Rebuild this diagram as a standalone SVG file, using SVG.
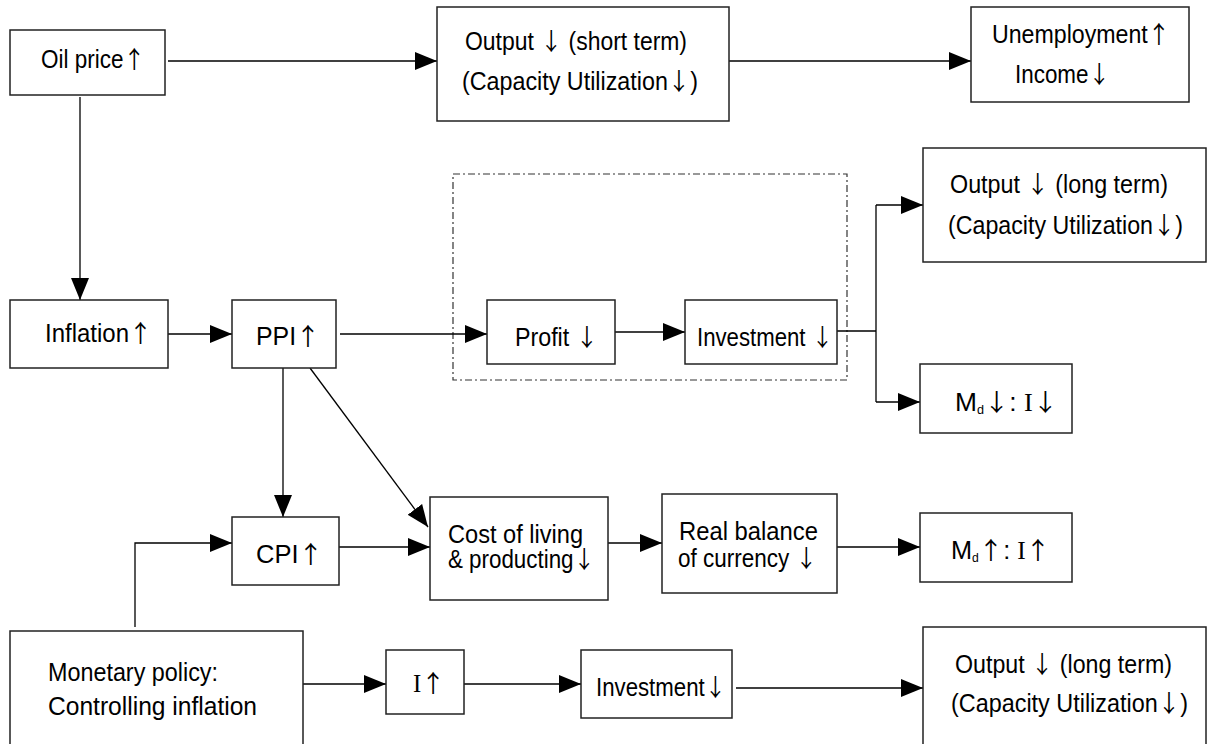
<svg xmlns="http://www.w3.org/2000/svg" width="1207" height="744" viewBox="0 0 1207 744">
<defs>
<marker id="ah" markerUnits="userSpaceOnUse" markerWidth="22" markerHeight="20" refX="22" refY="10" orient="auto">
<path d="M0,1 L22,10 L0,19 z" fill="#000"/>
</marker>
<style>
.box{fill:#fff;stroke:#222;stroke-width:1.5}
.dash{fill:none;stroke:#333;stroke-width:1.2;stroke-dasharray:7,3,2,3}
.t{font-family:"Liberation Sans",Arial,sans-serif;font-size:25px;fill:#000}
.s{font-family:"Liberation Serif","Times New Roman",serif;fill:#000}
.a{font-family:"Noto Sans CJK SC","DejaVu Sans",sans-serif;font-size:24px;fill:#000}
.c{fill:none;stroke:#000;stroke-width:1.3}
.ca{fill:none;stroke:#000;stroke-width:1.3;marker-end:url(#ah)}
</style>
</defs>
<rect width="1207" height="744" fill="#fff"/>
<g id="group-dashed"><rect class="dash" x="453" y="174" width="394" height="206"/></g>
<g id="connectors">
<path class="ca" d="M168,61 H437"/>
<path class="ca" d="M729,61 H971"/>
<path class="ca" d="M80,97 V300"/>
<path class="ca" d="M168,334 H232"/>
<path class="ca" d="M340,334 H487"/>
<path class="ca" d="M615,332 H685"/>
<path class="c" d="M837,331 H876 M876,205 V402"/>
<path class="ca" d="M876,205 H923"/>
<path class="ca" d="M876,402 H920"/>
<path class="ca" d="M283,368 V517"/>
<path class="ca" d="M310,368 L428,527"/>
<path class="ca" d="M339,547 H430"/>
<path class="ca" d="M135,627 V543 H232"/>
<path class="ca" d="M608,543 H662"/>
<path class="ca" d="M837,547 H920"/>
<path class="ca" d="M303,684 H386"/>
<path class="ca" d="M464,684 H581"/>
<path class="ca" d="M736,688 H923"/>
</g>
<g id="oil"><rect class="box" x="10" y="30" width="155" height="65"/><text class="t" x="41" y="68" textLength="104" lengthAdjust="spacingAndGlyphs">Oil price<tspan class="a">↑</tspan></text></g>
<g id="output-short"><rect class="box" x="437" y="7" width="292" height="114"/><text class="t" x="465" y="50" textLength="222" lengthAdjust="spacingAndGlyphs">Output <tspan class="a">↓</tspan> (short term)</text><text class="t" x="462" y="90" textLength="236" lengthAdjust="spacingAndGlyphs">(Capacity Utilization<tspan class="a">↓</tspan>)</text></g>
<g id="unemployment"><rect class="box" x="971" y="7" width="218" height="95"/><text class="t" x="992" y="43" textLength="178" lengthAdjust="spacingAndGlyphs">Unemployment<tspan class="a">↑</tspan></text><text class="t" x="1015" y="83" textLength="95" lengthAdjust="spacingAndGlyphs">Income<tspan class="a">↓</tspan></text></g>
<g id="inflation"><rect class="box" x="10" y="300" width="158" height="68"/><text class="t" x="45" y="342" textLength="107" lengthAdjust="spacingAndGlyphs">Inflation<tspan class="a">↑</tspan></text></g>
<g id="ppi"><rect class="box" x="232" y="300" width="104" height="68"/><text class="t" x="256" y="345" textLength="64" lengthAdjust="spacingAndGlyphs">PPI<tspan class="a">↑</tspan></text></g>
<g id="profit"><rect class="box" x="487" y="300" width="128" height="64"/><text class="t" x="515" y="346" textLength="83" lengthAdjust="spacingAndGlyphs">Profit <tspan class="a">↓</tspan></text></g>
<g id="investment1"><rect class="box" x="685" y="300" width="152" height="64"/><text class="t" x="697" y="346" textLength="136" lengthAdjust="spacingAndGlyphs">Investment <tspan class="a">↓</tspan></text></g>
<g id="output-long1"><rect class="box" x="923" y="148" width="283" height="114"/><text class="t" x="950" y="193" textLength="218" lengthAdjust="spacingAndGlyphs">Output <tspan class="a">↓</tspan> (long term)</text><text class="t" x="948" y="234" textLength="235" lengthAdjust="spacingAndGlyphs">(Capacity Utilization<tspan class="a">↓</tspan>)</text></g>
<g id="md-down"><rect class="box" x="920" y="364" width="152" height="69"/><text class="t" x="955" y="411" textLength="103" lengthAdjust="spacingAndGlyphs">M<tspan font-size="12" dy="3">d</tspan><tspan class="a" dy="-3">↓</tspan>:  <tspan class="s">I</tspan><tspan class="a">↓</tspan></text></g>
<g id="cpi"><rect class="box" x="232" y="517" width="107" height="68"/><text class="t" x="256" y="563" textLength="67" lengthAdjust="spacingAndGlyphs">CPI<tspan class="a">↑</tspan></text></g>
<g id="cost"><rect class="box" x="430" y="497" width="178" height="103"/><text class="t" x="448" y="543" textLength="135" lengthAdjust="spacingAndGlyphs">Cost of living</text><text class="t" x="448" y="568" textLength="147" lengthAdjust="spacingAndGlyphs">&amp; producting<tspan class="a">↓</tspan></text></g>
<g id="real-balance"><rect class="box" x="662" y="494" width="175" height="99"/><text class="t" x="679" y="540" textLength="139" lengthAdjust="spacingAndGlyphs">Real balance</text><text class="t" x="678" y="567" textLength="139" lengthAdjust="spacingAndGlyphs">of currency <tspan class="a">↓</tspan></text></g>
<g id="md-up"><rect class="box" x="920" y="513" width="152" height="69"/><text class="t" x="951" y="559" textLength="99" lengthAdjust="spacingAndGlyphs">M<tspan font-size="12" dy="3">d</tspan><tspan class="a" dy="-3">↑</tspan>:  <tspan class="s">I</tspan><tspan class="a">↑</tspan></text></g>
<g id="monetary"><rect class="box" x="10" y="631" width="293" height="130"/><text class="t" x="48" y="681" textLength="170" lengthAdjust="spacingAndGlyphs">Monetary policy:</text><text class="t" x="48" y="715" textLength="209" lengthAdjust="spacingAndGlyphs">Controlling inflation</text></g>
<g id="i-up"><rect class="box" x="386" y="650" width="78" height="64"/><text class="t" x="413" y="692" textLength="32" lengthAdjust="spacingAndGlyphs"><tspan class="s">I</tspan><tspan class="a">↑</tspan></text></g>
<g id="investment2"><rect class="box" x="581" y="650" width="151" height="68"/><text class="t" x="596" y="696" textLength="130" lengthAdjust="spacingAndGlyphs">Investment<tspan class="a">↓</tspan></text></g>
<g id="output-long2"><rect class="box" x="923" y="627" width="283" height="130"/><text class="t" x="955" y="673" textLength="217" lengthAdjust="spacingAndGlyphs">Output <tspan class="a">↓</tspan> (long term)</text><text class="t" x="951" y="712" textLength="237" lengthAdjust="spacingAndGlyphs">(Capacity Utilization<tspan class="a">↓</tspan>)</text></g>
</svg>
